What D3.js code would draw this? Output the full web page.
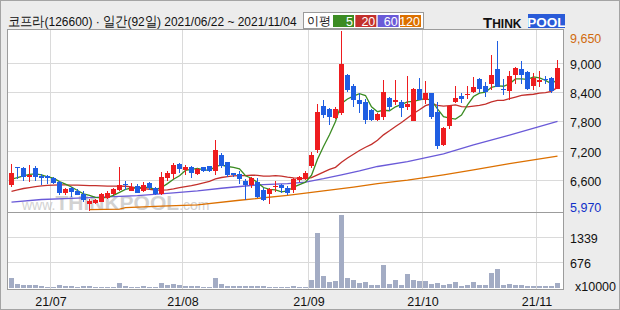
<!DOCTYPE html>
<html>
<head>
<meta charset="utf-8">
<script src="https://cdn.jsdelivr.net/npm/d3@7"></script>
<style>
  body { margin: 0; background: #ececec; }
  svg text { font-family: "Liberation Sans", Arial, sans-serif; }
</style>
</head>
<body>
<div id="chart"></div>
<script>
// daily candles, 2021/06/22 ~ 2021/11/04 (92 trading days)
const opens  = [6500,6870,6850,6670,6850,6690,6680,6650,6570,6330,6440,6380,6320,6120,6130,6160,6230,6310,6400,6520,
                6380,6480,6370,6550,6440,6320,6640,6730,6930,6800,6870,6730,6860,6890,6790,7110,6970,6740,6720,6590,
                6500,6570,6390,6320,6480,6500,6450,6390,6600,6630,6890,7220,8120,8060,7870,7980,8750,8530,8240,8200,
                8040,7830,7900,8280,8190,8200,8090,7820,8460,8240,8380,7990,7310,7710,8190,8320,8350,8410,8670,8530,
                8560,8870,8460,8430,8760,8870,8820,8530,8610,8670,8690,8470];
const highs  = [6930,6870,6870,6910,6890,6720,6710,6670,6590,6450,6460,6420,6370,6220,6220,6330,6370,6440,6870,6590,
                6540,6530,6560,6560,6460,6760,6780,6950,6950,6910,6900,6850,6870,6900,7420,7150,6980,6750,6780,6630,
                6670,6650,6440,6450,6590,6530,6490,6640,6680,6780,7170,8160,8230,8080,8100,9650,8770,8570,8380,8250,
                8060,7970,8650,8300,8640,8230,8730,8490,8690,8620,8390,8190,7690,8130,8530,8390,8530,8710,8690,8610,
                9160,9450,8670,8840,8910,9030,8830,8800,8840,8720,8710,9050];
const lows   = [6460,6630,6590,6570,6590,6500,6520,6530,6300,6300,6260,6300,6160,5970,6110,6150,6220,6300,6370,6400,
                6370,6340,6350,6390,6300,6300,6590,6630,6740,6710,6640,6700,6760,6760,6710,6850,6670,6670,6520,6190,
                6440,6240,6180,6110,6350,6330,6300,6340,6570,6600,6850,7160,7870,7720,7860,7940,8410,8100,7970,7740,
                7800,7820,7830,8020,8130,7890,8040,7820,8230,8150,7860,7240,7300,7640,8170,8170,8250,8390,8390,8300,
                8450,8500,8340,8230,8570,8560,8450,8450,8510,8560,8380,8460];
const closes = [6740,6860,6660,6710,6670,6650,6640,6540,6330,6430,6350,6300,6200,6180,6200,6310,6340,6410,6500,6500,
                6460,6340,6500,6440,6320,6660,6750,6910,6830,6860,6750,6830,6790,6790,7220,6900,6700,6700,6630,6500,
                6650,6260,6200,6430,6480,6440,6340,6630,6670,6740,7120,7990,7930,7890,8050,8970,8450,8230,8150,7830,
                7830,7950,8410,8090,8240,8080,8160,8470,8240,8380,7900,7300,7670,8120,8280,8270,8360,8500,8470,8410,
                8750,8510,8450,8730,8900,8760,8460,8680,8650,8640,8420,8900];
// volume, x10000 shares
const volumes = [265,106,80,80,80,53,27,27,80,53,53,27,53,53,27,27,27,27,133,53,
                 27,27,53,27,27,133,80,106,80,53,53,53,27,27,265,106,53,53,53,53,
                 53,53,53,27,27,27,27,53,27,27,212,1459,318,159,186,1936,265,212,133,159,
                 80,80,610,106,212,80,371,212,186,186,106,133,80,106,159,53,80,159,80,80,
                 398,504,80,106,80,80,53,53,53,53,53,133];

// moving averages
const ma5 = [6620,6650,6690,6720,6730,6710,6670,6640,6570,6520,6460,6390,6320,6290,6250,6240,6250,6290,6350,6410,
             6440,6440,6460,6450,6410,6450,6530,6620,6690,6800,6820,6840,6810,6800,6880,6910,6880,6860,6830,6690,
             6640,6550,6450,6410,6400,6360,6380,6460,6510,6560,6700,7030,7290,7530,7800,8170,8260,8320,8370,8330,
             8100,8000,8030,8020,8100,8150,8200,8210,8240,8270,8230,8060,7900,7870,7850,7930,8140,8310,8380,8400,
             8500,8530,8520,8570,8670,8670,8660,8710,8690,8640,8570,8660];
const ma20 = [6370,6400,6430,6450,6470,6485,6495,6500,6505,6505,6500,6500,6495,6490,6490,6485,6480,6480,6478,6476,
              6462,6436,6428,6415,6397,6398,6403,6422,6447,6468,6488,6515,6544,6575,6626,6655,6673,6688,6694,6694,
              6704,6700,6685,6684,6692,6681,6661,6647,6639,6633,6651,6709,6766,6821,6863,6966,7054,7130,7206,7273,
              7332,7416,7527,7610,7698,7780,7871,7963,8041,8123,8162,8128,8115,8126,8138,8103,8098,8112,8128,8157,
              8203,8231,8233,8265,8298,8332,8347,8357,8378,8391,8417,8497];
const ma60Idx = [0,5,10,15,21,27,31,35,41,46,49,52,55,58,61,66,72,77,83,91];
const ma60Val = [6150,6205,6230,6255,6285,6340,6380,6435,6505,6530,6560,6630,6710,6790,6880,6980,7140,7320,7520,7800];
const ma120Idx = [13,18,19,25,31,38,46,52,57,61,66,72,77,83,91];
const ma120Val = [6000,6010,6040,6070,6095,6190,6290,6380,6460,6530,6600,6710,6810,6940,7090];

const maNames  = ["5","20","60","120"];
const maColors = ["#3c8c23","#c3302c","#6a5ad8","#dc7000"];

const priceTicks = [9650,9000,8400,7800,7200,6600,5970];
const volTicks = [1339,676];
const monthIdx = [7,29,50,69,88];
const monthLabels = ["21/07","21/08","21/09","21/10","21/11"];

const width = 620, height = 310;
const plotLeft = 7, plotRight = 563, plotTop = 29, plotMid = 212, plotBottom = 289;

let svg = d3.select("#chart").append("svg")
    .attr("width", width)
    .attr("height", height);

svg.append("rect")
    .attr("x", 0.5).attr("y", 0.5)
    .attr("width", width - 1).attr("height", height - 1)
    .attr("fill", "#ececec").attr("stroke", "#a4a4a4");

// scales
let x = d3.scaleLinear().domain([0, closes.length]).range([8.5, 560.5]);
let y = d3.scaleLinear().domain([5970, 9650]).range([211, 31]);
let yv = d3.scaleLinear().domain([0, 2010]).range([288, 212]);

// panels
svg.append("rect")
    .attr("x", plotLeft + 0.5).attr("y", plotTop + 0.5)
    .attr("width", plotRight - plotLeft).attr("height", plotBottom - plotTop)
    .attr("fill", "#fff").attr("stroke", "#9c9c9c");

let grid = svg.append("g").attr("stroke", "#dadada").attr("stroke-width", 1);
grid.selectAll(".vg").data(monthIdx).enter().append("line")
    .attr("x1", d => x(d)).attr("x2", d => x(d))
    .attr("y1", plotTop + 1).attr("y2", plotBottom);
grid.selectAll(".hg").data(priceTicks.slice(1, -1)).enter().append("line")
    .attr("x1", plotLeft + 1).attr("x2", plotRight)
    .attr("y1", d => Math.round(y(d)) + 0.5).attr("y2", d => Math.round(y(d)) + 0.5);
grid.selectAll(".vh").data(volTicks).enter().append("line")
    .attr("x1", plotLeft + 1).attr("x2", plotRight)
    .attr("y1", d => Math.round(yv(d)) + 0.5).attr("y2", d => Math.round(yv(d)) + 0.5);

svg.append("line")
    .attr("x1", plotLeft).attr("x2", plotRight + 1)
    .attr("y1", plotMid + 0.5).attr("y2", plotMid + 0.5)
    .attr("stroke", "#9c9c9c");

// watermark
let wm = svg.append("text")
    .attr("x", 22).attr("y", 210)
    .attr("fill", "#c4c4c4").attr("opacity", 0.75);
wm.append("tspan").attr("font-size", 14).text("www.");
wm.append("tspan").attr("font-size", 21).attr("font-weight", "bold").text("THINKPOOL");
wm.append("tspan").attr("font-size", 14).text(".com");

// moving averages
let line = d3.line().x((d, i) => x(i) + 3).y(d => y(d));
let sparse = d3.line().x(d => x(d[0]) + 3).y(d => y(d[1]));

let maG = svg.append("g").attr("fill", "none").attr("stroke-width", 1.3);
maG.append("path").attr("d", sparse(ma120Idx.map((d, k) => [d, ma120Val[k]]))).attr("stroke", maColors[3]);
maG.append("path").attr("d", sparse(ma60Idx.map((d, k) => [d, ma60Val[k]]))).attr("stroke", maColors[2]);
maG.append("path").attr("d", line(ma20)).attr("stroke", maColors[1]);
maG.append("path").attr("d", line(ma5)).attr("stroke", maColors[0]);

// candles
const upColor = "#ee1c1f", downColor = "#1f5ee2";
let candles = svg.append("g").selectAll("g")
    .data(closes.map((c, i) => ({i: i, o: opens[i], h: highs[i], l: lows[i], c: c})))
    .enter().append("g")
    .attr("fill", d => d.c >= d.o ? upColor : downColor)
    .attr("stroke", d => d.c >= d.o ? upColor : downColor);

candles.append("line")
    .attr("x1", d => x(d.i) + 3).attr("x2", d => x(d.i) + 3)
    .attr("y1", d => Math.round(y(d.h))).attr("y2", d => Math.round(y(d.l)));

candles.append("rect")
    .attr("stroke", "none")
    .attr("x", d => x(d.i) + 0.5)
    .attr("width", 5)
    .attr("y", d => Math.round(y(Math.max(d.o, d.c))))
    .attr("height", d => Math.max(1, Math.round(y(Math.min(d.o, d.c))) - Math.round(y(Math.max(d.o, d.c)))));

// volume bars
svg.append("g").selectAll("rect")
    .data(volumes)
    .enter().append("rect")
    .attr("x", (d, i) => x(i) + 0.5)
    .attr("width", 5)
    .attr("y", d => Math.round(yv(d)))
    .attr("height", d => Math.max(1, Math.round(yv(0)) - Math.round(yv(d))))
    .attr("fill", "#a3acc4");

// right axes
let gy = svg.append("g").attr("transform", "translate(" + plotRight + ",0)")
    .call(d3.axisRight(y).tickValues(priceTicks).tickSize(0).tickPadding(7).tickFormat(d3.format(",")));
gy.select(".domain").remove();
gy.selectAll("text")
    .attr("font-size", 12.5)
    .attr("font-family", "Liberation Sans, Arial, sans-serif")
    .attr("fill", d => d === priceTicks[0] ? "#d06a0c" : d === priceTicks[priceTicks.length - 1] ? "#1030c8" : "#111")
    .attr("y", d => Math.max(38 - y(d), Math.min(207 - y(d), 1.5)));

let gv = svg.append("g").attr("transform", "translate(" + plotRight + ",0)")
    .call(d3.axisRight(yv).tickValues(volTicks).tickSize(0).tickPadding(7).tickFormat(d3.format("d")));
gv.select(".domain").remove();
gv.selectAll("text")
    .attr("font-size", 12.5)
    .attr("font-family", "Liberation Sans, Arial, sans-serif")
    .attr("fill", "#111")
    .attr("y", 1.5);

svg.append("text")
    .attr("x", 575).attr("y", 291)
    .attr("font-size", 12.5).attr("fill", "#111")
    .text("x10000");

// bottom axis
let gx = svg.append("g").attr("transform", "translate(0," + plotBottom + ")")
    .call(d3.axisBottom(x).tickValues(monthIdx).tickSize(0).tickPadding(8).tickFormat((d, k) => monthLabels[k]));
gx.select(".domain").remove();
gx.selectAll("text")
    .attr("font-size", 12.5)
    .attr("font-family", "Liberation Sans, Arial, sans-serif")
    .attr("fill", "#111");

// header - squeeze the title horizontally to the width it has in the original
let title = svg.append("text")
    .attr("font-family", "Noto Sans CJK KR, sans-serif")
    .attr("font-size", 13.5)
    .attr("fill", "#111")
    .text("코프라(126600) · 일간(92일) 2021/06/22 ~ 2021/11/04");
let titleLen = title.node().getComputedTextLength();
title.attr("transform", "translate(8,26) scale(" + (290 / titleLen) + ",1)");

let legend = svg.append("g");
legend.append("rect")
    .attr("x", 303.5).attr("y", 12.5).attr("width", 120).attr("height", 16)
    .attr("fill", "#fff").attr("stroke", "#9a9a9a");
legend.append("text")
    .attr("x", 307).attr("y", 25)
    .attr("font-family", "Noto Sans CJK KR, sans-serif").attr("font-size", 12)
    .attr("fill", "#111").text("이평");
let lx = d3.scaleBand().domain(maNames).range([333, 421]).paddingInner(0.06);
legend.selectAll(".lb").data(maNames).enter().append("rect")
    .attr("x", d => lx(d)).attr("y", 15).attr("width", lx.bandwidth()).attr("height", 12)
    .attr("fill", (d, k) => maColors[k]);
legend.selectAll(".lt").data(maNames).enter().append("text")
    .attr("x", d => lx(d) + lx.bandwidth() - 1).attr("y", 25.5)
    .attr("text-anchor", "end").attr("font-size", 12.5).attr("fill", "#fff")
    .text(d => d);

// logo
let logo = svg.append("g");
let lt = logo.append("text").attr("x", 483).attr("y", 27.5)
    .attr("font-family", "Liberation Sans, Arial, sans-serif").attr("font-weight", "bold").attr("fill", "#111");
lt.append("tspan").attr("font-size", 15).text("T");
lt.append("tspan").attr("font-size", 12).text("HINK");
logo.append("rect").attr("x", 528).attr("y", 14).attr("width", 37).attr("height", 14).attr("fill", "#2a5bd8");
logo.append("text").attr("x", 546.5).attr("y", 26.5).attr("text-anchor", "middle")
    .attr("font-family", "Liberation Sans, Arial, sans-serif").attr("font-weight", "bold")
    .attr("font-size", 13.5).attr("fill", "#fff").text("POOL");
</script>
</body>
</html>
